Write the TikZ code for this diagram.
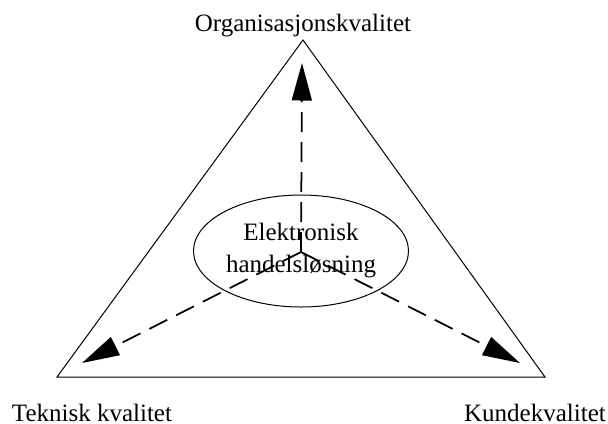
\documentclass[tikz,border=0pt]{standalone}
\usepackage{fontspec}
\setmainfont{Liberation Serif}
\usetikzlibrary{arrows.meta}
\usetikzlibrary{shapes.geometric}
\tikzset{>=stealth}
\tikzset{
  quality arrow/.style={
    dash pattern=on 8pt off 4pt,
    line width=0.7pt,
    -{Triangle[length=15pt,width=8pt]}}}
\tikzset{
  corner label/.style={
    anchor=base, inner sep=0pt,
    font=\fontsize{10}{12}\selectfont}}

\begin{document}
\begin{tikzpicture}[x=0.4pt,y=-0.4pt]
    \useasboundingbox (0,0) rectangle (608,423);
    \coordinate (O) at (303,40);
    \coordinate (T) at (57,377);
    \coordinate (K) at (545,377);
    \draw[line width=0.4pt] (O) -- (T) -- (K) -- cycle;
    \node[draw, ellipse, line width=0.4pt, inner sep=0pt,
          minimum width=86pt, minimum height=44.8pt, align=center,
          font=\fontsize{10}{12.8}\selectfont]
        (E) at (301,251) {Elektronisk\ \\handelsløsning};
    \coordinate (C) at (301,252);
    \coordinate (Otip) at (302,63);
    \coordinate (Ttip) at (82,363);
    \coordinate (Ktip) at (520,363);
    \draw[quality arrow] (C) -- (Otip);
    \draw[quality arrow] (C) -- (Ttip);
    \draw[quality arrow] (C) -- (Ktip);
    \node[corner label] (Olab) at (303,31) {Organisasjonskvalitet};
    \node[corner label] (Tlab) at (92,421) {Teknisk kvalitet};
    \node[corner label] (Klab) at (535,421) {Kundekvalitet};
\end{tikzpicture}
\end{document}
